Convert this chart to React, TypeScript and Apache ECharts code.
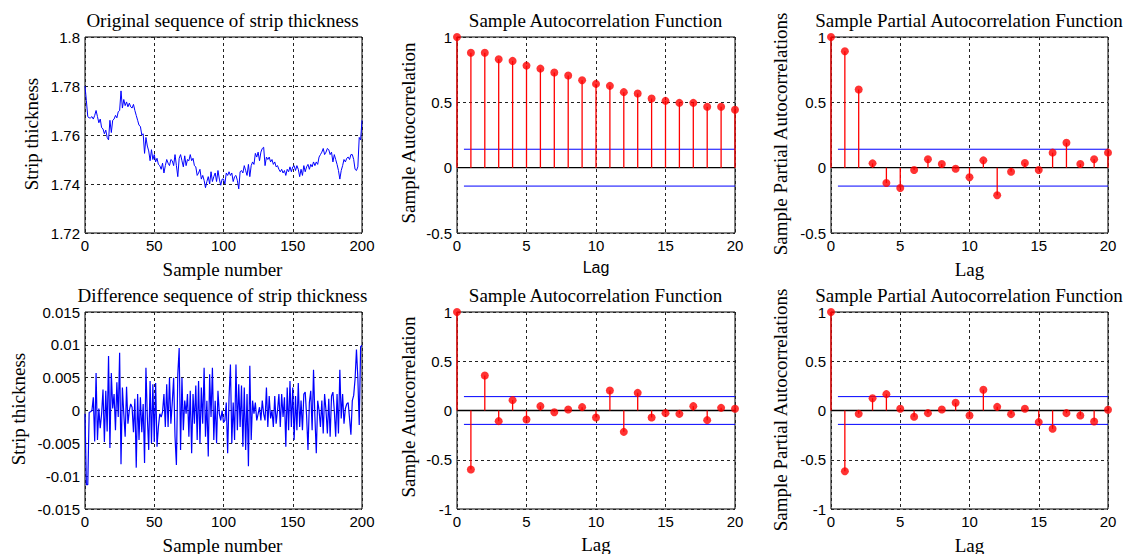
import React, { useEffect, useRef } from "react";
import * as echarts from "echarts";

// ---------- data ----------
const thickness = [
  1.780, 1.774, 1.7675, 1.767, 1.767, 1.7675, 1.7665, 1.768, 1.770, 1.7675,
  1.765, 1.7665, 1.763, 1.7625, 1.7605, 1.762, 1.759, 1.758, 1.766, 1.761,
  1.766, 1.7665, 1.768, 1.767, 1.7695, 1.770, 1.778, 1.771, 1.7745, 1.772,
  1.7735, 1.7715, 1.773, 1.7715, 1.771, 1.7725, 1.770, 1.768, 1.766, 1.764,
  1.7635, 1.760, 1.7605, 1.7525, 1.759, 1.7555, 1.7535, 1.7495, 1.754, 1.750,
  1.752, 1.749, 1.7505, 1.748, 1.7475, 1.746, 1.7485, 1.7445, 1.7475, 1.750,
  1.7485, 1.7475, 1.750, 1.7495, 1.7475, 1.752, 1.7475, 1.743, 1.7505, 1.752,
  1.7495, 1.747, 1.7515, 1.7475, 1.750, 1.7495, 1.752, 1.7495, 1.7505, 1.7475,
  1.747, 1.7435, 1.7445, 1.746, 1.742, 1.7435, 1.7415, 1.7385, 1.741, 1.743,
  1.740, 1.745, 1.741, 1.743, 1.7445, 1.741, 1.7455, 1.742, 1.7395, 1.742,
  1.742, 1.740, 1.7445, 1.7435, 1.745, 1.7435, 1.7445, 1.741, 1.743, 1.7435,
  1.7415, 1.738, 1.745, 1.7455, 1.7445, 1.7475, 1.7455, 1.7435, 1.748, 1.743,
  1.7475, 1.749, 1.748, 1.7525, 1.751, 1.753, 1.7495, 1.753, 1.7545, 1.755,
  1.7475, 1.751, 1.750, 1.751, 1.749, 1.750, 1.748, 1.749, 1.747, 1.7475,
  1.746, 1.745, 1.746, 1.7445, 1.7455, 1.7435, 1.746, 1.745, 1.747, 1.745,
  1.747, 1.7475, 1.7455, 1.7475, 1.746, 1.743, 1.746, 1.7435, 1.7475, 1.745,
  1.747, 1.748, 1.746, 1.748, 1.747, 1.749, 1.7475, 1.749, 1.748, 1.751,
  1.752, 1.753, 1.7545, 1.752, 1.753, 1.7545, 1.754, 1.752, 1.753, 1.749,
  1.752, 1.750, 1.748, 1.7455, 1.742, 1.7455, 1.7475, 1.750, 1.749, 1.7505,
  1.751, 1.750, 1.752, 1.752, 1.750, 1.746, 1.7455, 1.747, 1.759, 1.758,
  1.766,
];

const difference = [
  -0.0005, -0.0113, -0.0113, -0.0003, -0.0002, 0.0, 0.002, -0.0047, 0.0057, -0.0045,
  0.0003, -0.0027, -0.0005, 0.0032, -0.0048, 0.003, -0.0032, 0.0083, -0.0057, 0.0057,
  0.0003, 0.0025, -0.003, 0.0043, -0.001, 0.0088, -0.0082, 0.0035, -0.0005, -0.004,
  0.0036, -0.002, 0.0, 0.001, 0.0005, -0.0033, 0.0018, -0.0087, 0.0025, -0.0045,
  0.002, -0.0033, 0.001, -0.008, 0.0065, -0.001, -0.006, 0.0045, -0.005, 0.004,
  -0.0048, 0.0042, -0.0055, -0.0025, -0.0005, -0.001, -0.0002, 0.0025, -0.0025, 0.004,
  -0.0025, 0.005, -0.002, 0.0012, 0.005, -0.004, -0.0083, 0.0055, 0.0095, -0.006,
  0.005, -0.003, 0.0015, -0.0005, 0.0025, -0.004, 0.003, -0.0065, 0.0025, -0.002,
  0.0038, -0.0045, 0.0045, -0.005, 0.0035, -0.002, 0.0065, -0.004, 0.0015, -0.007,
  0.0055, -0.001, 0.0065, -0.0045, 0.0015, -0.005, 0.003, -0.0005, -0.0015, 0.0,
  -0.0018, -0.0015, 0.0012, -0.0065, 0.002, 0.007, -0.005, 0.0012, -0.0045, 0.007,
  -0.003, 0.004, -0.0025, 0.0038, -0.0055, 0.0035, -0.006, 0.0025, -0.0085, 0.0068,
  -0.0045, 0.0015, -0.0005, 0.0012, -0.0015, -0.0005, 0.0005, -0.0015, 0.0015, -0.0005,
  -0.0015, 0.0035, -0.0025, 0.0022, -0.0012, 0.0, -0.0025, 0.0022, -0.002, 0.0,
  0.0025, -0.0025, 0.0025, -0.001, 0.002, -0.0055, 0.0035, -0.003, 0.0045, -0.0025,
  0.0035, -0.0045, 0.0022, -0.003, 0.0042, -0.0025, 0.0015, -0.003, 0.0025, 0.0028,
  -0.0008, -0.006, 0.0012, 0.003, -0.003, 0.0062, -0.001, -0.0065, 0.0015, 0.0,
  -0.0025, 0.0015, -0.0035, 0.0025, 0.0, -0.0035, 0.0018, -0.004, 0.0022, 0.0028,
  0.0, -0.004, 0.0025, -0.0035, 0.0062, -0.0012, 0.0025, -0.002, 0.0003, 0.001,
  0.0012, -0.0012, -0.0037, 0.0015, 0.0023, 0.0048, 0.0093, 0.005, -0.0022, 0.0097,
  0.0099,
];

const lags = [0, 1, 2, 3, 4, 5, 6, 7, 8, 9, 10, 11, 12, 13, 14, 15, 16, 17, 18, 19, 20];
const acfOriginal = [1, 0.880, 0.880, 0.830, 0.817, 0.781, 0.758, 0.728, 0.705, 0.669, 0.641, 0.626, 0.578, 0.567, 0.529, 0.511, 0.496, 0.496, 0.466, 0.466, 0.443];
const pacfOriginal = [1, 0.891, 0.598, 0.033, -0.117, -0.155, -0.018, 0.064, 0.028, -0.008, -0.074, 0.056, -0.211, -0.031, 0.036, -0.018, 0.115, 0.191, 0.028, 0.064, 0.115];
const acfDifference = [1, -0.599, 0.355, -0.108, 0.105, -0.091, 0.044, -0.017, 0.010, 0.034, -0.071, 0.203, -0.217, 0.179, -0.071, -0.027, -0.034, 0.044, -0.098, 0.027, 0.017];
const pacfDifference = [1, -0.616, -0.034, 0.125, 0.166, 0.017, -0.064, -0.027, 0.010, 0.078, -0.051, 0.210, 0.037, -0.037, 0.017, -0.118, -0.186, -0.027, -0.051, -0.112, 0.007];
const confBound = 0.141;
const boundStartLag = 0.5;

const titles = [
  "Original sequence of strip thickness",
  "Sample Autocorrelation Function",
  "Sample Partial Autocorrelation Function",
  "Difference sequence of strip thickness",
  "Sample Autocorrelation Function",
  "Sample Partial Autocorrelation Function",
];
const xNames = ["Sample number", "Lag", "Lag", "Sample number", "Lag", "Lag"];
const yNames = [
  "Strip thickness",
  "Sample Autocorrelation",
  "Sample Partial Autocorrelations",
  "Strip thickness",
  "Sample Autocorrelation",
  "Sample Partial Autocorrelations",
];

// ---------- layout ----------
const SERIF = '"Liberation Serif", "Times New Roman", serif';
const SANS = '"Liberation Sans", Arial, sans-serif';

const grids = [
  { left: 85, top: 37, width: 277, height: 196 },
  { left: 457, top: 37, width: 278, height: 196 },
  { left: 831, top: 37, width: 277, height: 196 },
  { left: 85, top: 312, width: 277, height: 197 },
  { left: 457, top: 312, width: 278, height: 197 },
  { left: 831, top: 312, width: 277, height: 197 },
];
const titlePos = [
  [222.5, 20], [595.5, 20], [969, 20],
  [222.5, 295], [595.5, 295], [969, 295],
];
const xNamePos = [
  [222.5, 269], [596, 267], [969.5, 269],
  [222.5, 545], [596, 544], [969.5, 545],
];
const xNameFonts = [SERIF, SANS, SERIF, SERIF, SERIF, SERIF];
const xNameSizes = [19, 16, 19, 19, 19, 19];
const yNamePos = [
  [31, 134], [408, 133], [780.5, 134],
  [18.5, 409], [408, 407], [780.5, 410],
];

function fmt(v: number) {
  return String(+v.toFixed(4));
}

export default function App() {
  const ref = useRef<HTMLDivElement>(null);

  useEffect(() => {
    if (!ref.current) return;
    const chart = echarts.init(ref.current, undefined, { renderer: "svg" });

    const splitLine = {
      show: true,
      lineStyle: { color: "#222", width: 1, type: [3, 3] as any },
    };
    const axisLabel = (margin: number) => ({
      fontFamily: SANS,
      fontSize: 15,
      color: "#000",
      margin,
      formatter: fmt,
    });

    const xAxis: any[] = [];
    const yAxis: any[] = [];
    const yRanges = [
      [1.72, 1.8, 0.02],
      [-0.5, 1, 0.5],
      [-0.5, 1, 0.5],
      [-0.015, 0.015, 0.005],
      [-1, 1, 0.5],
      [-1, 1, 0.5],
    ];
    for (let i = 0; i < 6; i++) {
      const isSeries = i === 0 || i === 3;
      xAxis.push({
        type: "value",
        gridIndex: i,
        min: 0,
        max: isSeries ? 200 : 20,
        interval: isSeries ? 50 : 5,
        axisLine: { show: false },
        axisTick: { show: false },
        axisLabel: axisLabel(5),
        splitLine,
      });
      yAxis.push({
        type: "value",
        gridIndex: i,
        min: yRanges[i][0],
        max: yRanges[i][1],
        interval: yRanges[i][2],
        axisLine: { show: false },
        axisTick: { show: false },
        axisLabel: axisLabel(5),
        splitLine,
      });
    }

    const series: any[] = [];
    // time series
    series.push({
      type: "line",
      xAxisIndex: 0,
      yAxisIndex: 0,
      data: thickness.map((v, i) => [i, v]),
      showSymbol: false,
      lineStyle: { color: "#0000ff", width: 1 },
      clip: true,
    });
    series.push({
      type: "line",
      xAxisIndex: 3,
      yAxisIndex: 3,
      data: difference.map((v, i) => [i, v]),
      showSymbol: false,
      lineStyle: { color: "#0000ff", width: 1.2 },
      clip: true,
    });

    const stemSets: [number, number[]][] = [
      [1, acfOriginal],
      [2, pacfOriginal],
      [4, acfDifference],
      [5, pacfDifference],
    ];
    for (const [gi, vals] of stemSets) {
      // zero line
      series.push({
        type: "line",
        xAxisIndex: gi,
        yAxisIndex: gi,
        data: [[lags[0], 0], [lags[lags.length - 1], 0]],
        showSymbol: false,
        lineStyle: { color: "#000", width: 1.3 },
        z: 3,
      });
      // confidence bounds
      for (const b of [confBound, -confBound]) {
        series.push({
          type: "line",
          xAxisIndex: gi,
          yAxisIndex: gi,
          data: [[boundStartLag, b], [lags[lags.length - 1], b]],
          showSymbol: false,
          lineStyle: { color: "#0000ff", width: 1 },
          z: 3,
        });
      }
      // stems
      series.push({
        type: "custom",
        xAxisIndex: gi,
        yAxisIndex: gi,
        data: lags.map((l, k) => [l, vals[k]]),
        encode: { x: 0, y: 1 },
        z: 4,
        renderItem: (params: any, api: any) => {
          const x = api.value(0);
          const y = api.value(1);
          const p0 = api.coord([x, 0]);
          const p1 = api.coord([x, y]);
          return {
            type: "line",
            shape: { x1: p0[0], y1: p0[1], x2: p1[0], y2: p1[1] },
            style: { stroke: "#ff0000", lineWidth: 1.3 },
          };
        },
      });
      // markers
      series.push({
        type: "scatter",
        xAxisIndex: gi,
        yAxisIndex: gi,
        data: lags.map((l, k) => [l, vals[k]]),
        symbol: "circle",
        symbolSize: 8,
        itemStyle: { color: "#ff0000" },
        clip: false,
        z: 5,
      });
    }

    const graphic: any[] = [];
    for (let i = 0; i < 6; i++) {
      graphic.push({
        type: "text",
        x: titlePos[i][0],
        y: titlePos[i][1],
        style: {
          text: titles[i],
          fontFamily: SERIF,
          fontSize: 19,
          fill: "#000",
          align: "center",
          verticalAlign: "middle",
          textAlign: "center",
          textVerticalAlign: "middle",
        },
      });
      graphic.push({
        type: "text",
        x: xNamePos[i][0],
        y: xNamePos[i][1],
        style: {
          text: xNames[i],
          fontFamily: xNameFonts[i],
          fontSize: xNameSizes[i],
          fill: "#000",
          align: "center",
          verticalAlign: "middle",
          textAlign: "center",
          textVerticalAlign: "middle",
        },
      });
      graphic.push({
        type: "text",
        x: yNamePos[i][0],
        y: yNamePos[i][1],
        rotation: Math.PI / 2,
        style: {
          text: yNames[i],
          fontFamily: SERIF,
          fontSize: 19,
          fill: "#000",
          align: "center",
          verticalAlign: "middle",
          textAlign: "center",
          textVerticalAlign: "middle",
        },
      });
    }

    chart.setOption({
      animation: false,
      backgroundColor: "#fff",
      grid: grids.map((g) => ({
        ...g,
        show: true,
        backgroundColor: "#fff",
        borderColor: "#000",
        borderWidth: 1,
        containLabel: false,
      })),
      xAxis,
      yAxis,
      series,
      graphic,
    });

    return () => chart.dispose();
  }, []);

  return (
    <div
      ref={ref}
      style={{ position: "fixed", left: 0, top: 0, width: 1130, height: 554, background: "#fff" }}
    />
  );
}
